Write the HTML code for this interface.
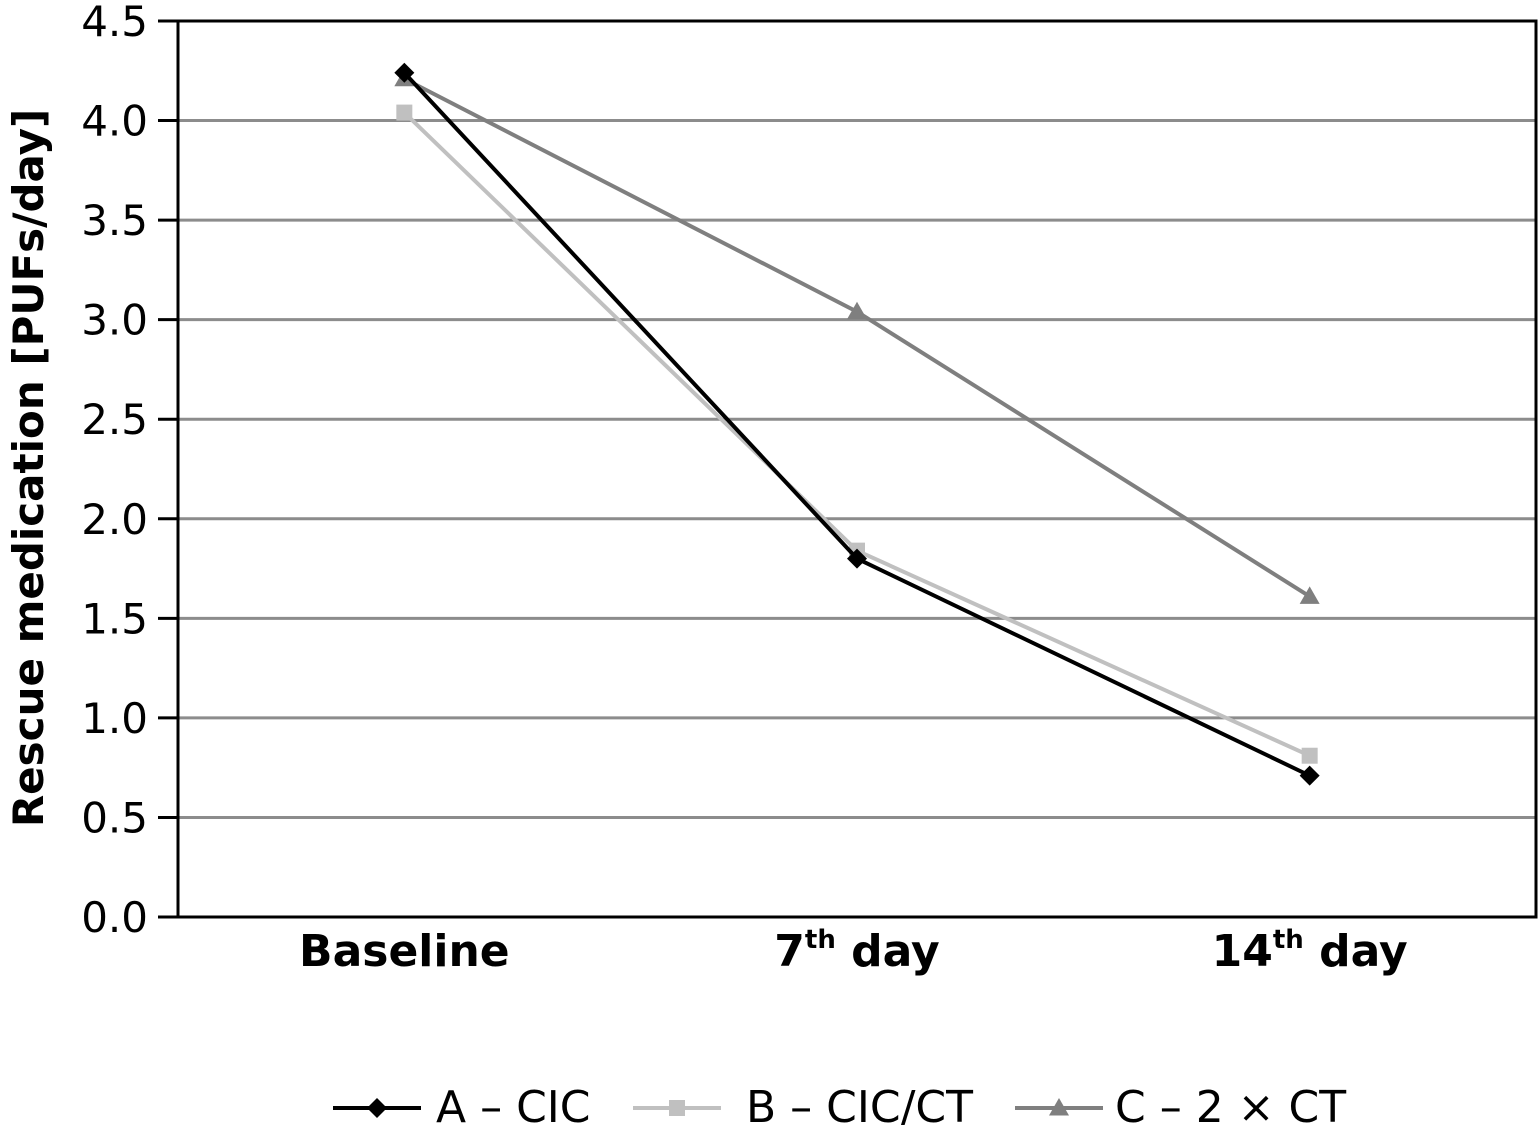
<!DOCTYPE html>
<html><head><meta charset="utf-8"><style>
body{margin:0;background:#fff;}
svg{display:block;font-family:"DejaVu Sans","Liberation Sans",sans-serif;}
</style></head><body>
<svg id="chart" width="1538" height="1125" viewBox="0 0 1538 1125" xmlns="http://www.w3.org/2000/svg">
<g id="grid"></g>
<g id="axes"></g>
<g id="series"></g>
<text transform="translate(43,468) rotate(-90)" text-anchor="middle" font-size="42" font-weight="bold" fill="#000">Rescue medication [PUFs/day]</text>
<g id="legend"></g>
</svg>
<script>
const categories = ["Baseline", "7th day", "14th day"];
const seriesA = [4.24, 1.80, 0.71];
const seriesB = [4.04, 1.84, 0.81];
const seriesC = [4.21, 3.04, 1.61];
const yTicks = [0, 0.5, 1.0, 1.5, 2.0, 2.5, 3.0, 3.5, 4.0, 4.5];
const seriesNames = ["A – CIC", "B – CIC/CT", "C – 2 × CT"];

const NS = "http://www.w3.org/2000/svg";
const L = 178, R = 1536, T = 21, B = 917, yMax = 4.5;
const y = v => B - (v / yMax) * (B - T);
const bw = (R - L) / categories.length;
const x = i => L + bw * (i + 0.5);
function mk(tag, attrs, parent) {
  const e = document.createElementNS(NS, tag);
  for (const k in attrs) e.setAttribute(k, attrs[k]);
  parent.appendChild(e); return e;
}
const grid = document.getElementById("grid"), axes = document.getElementById("axes"),
      ser = document.getElementById("series"), leg = document.getElementById("legend");
yTicks.forEach(t => {
  if (t > 0 && t < yMax) {
    const g = mk("line", {x1: L, x2: R, y1: y(t), y2: y(t), stroke: "#8c8c8c", "stroke-width": 3}, grid);
    
    
  }
  const tk = mk("line", {x1: L - 20, x2: L, y1: y(t), y2: y(t), stroke: "#000", "stroke-width": 3}, axes);
  
  
  const lb = mk("text", {x: L - 30, y: y(t) + 15, "text-anchor": "end", "font-size": 42, fill: "#000"}, axes);
  lb.textContent = t.toFixed(1);
  
  
});
const frame = mk("rect", {x: L, y: T, width: R - L, height: B - T, fill: "none", stroke: "#000", "stroke-width": 3}, axes);


categories.forEach((c, i) => {
  const t = mk("text", {x: x(i), y: 966, "text-anchor": "middle", "font-size": 44, "font-weight": "bold", fill: "#000"}, axes);
  
  
  const m = c.match(/^(\d+)(th)(.*)$/);
  if (m) {
    const a = mk("tspan", {}, t); a.textContent = m[1];
    const b = mk("tspan", {"font-size": 26, dy: -18}, t); b.textContent = m[2];
    const d = mk("tspan", {dy: 18}, t); d.textContent = m[3];
  } else t.textContent = c;
});
function marker(type, cx, cy, color, parent, s) {
  let e;
  if (type === "diamond") e = mk("polygon", {points: `${cx},${cy-s} ${cx+s},${cy} ${cx},${cy+s} ${cx-s},${cy}`, fill: color}, parent);
  else if (type === "square") e = mk("rect", {x: cx - s*0.8, y: cy - s*0.8, width: s*1.6, height: s*1.6, fill: color}, parent);
  else e = mk("polygon", {points: `${cx},${cy-s} ${cx+s},${cy+s*0.75} ${cx-s},${cy+s*0.75}`, fill: color}, parent);
  return e;
}
const defs = [
  {data: seriesB, color: "#c0c0c0", m: "square", name: "series-b"},
  {data: seriesC, color: "#7f7f7f", m: "triangle", name: "series-c"},
  {data: seriesA, color: "#000000", m: "diamond", name: "series-a"}
];
defs.forEach(d => {
  const g = mk("g", {}, ser);
  
  
  const pl = mk("polyline", {points: d.data.map((v, i) => `${x(i)},${y(v)}`).join(" "), fill: "none", stroke: d.color, "stroke-width": 4}, g);
  
  
  d.data.forEach((v, i) => {
    const mm = marker(d.m, x(i), y(v), d.color, g, 10);
    
    
  });
});
const legDefs = [
  {x0: 333, color: "#000000", m: "diamond", tx: 436},
  {x0: 633, color: "#c0c0c0", m: "square", tx: 746},
  {x0: 1015, color: "#7f7f7f", m: "triangle", tx: 1115}
];
legDefs.forEach((d, i) => {
  const g = mk("g", {}, leg);
  
  
  mk("line", {x1: d.x0, x2: d.x0 + 88, y1: 1108, y2: 1108, stroke: d.color, "stroke-width": 4}, g);
  marker(d.m, d.x0 + 44, 1108, d.color, g, 10);
  const t = mk("text", {x: d.tx, y: 1122, "font-size": 44, fill: "#000"}, g);
  t.textContent = seriesNames[i];
});
</script>
</body></html>
